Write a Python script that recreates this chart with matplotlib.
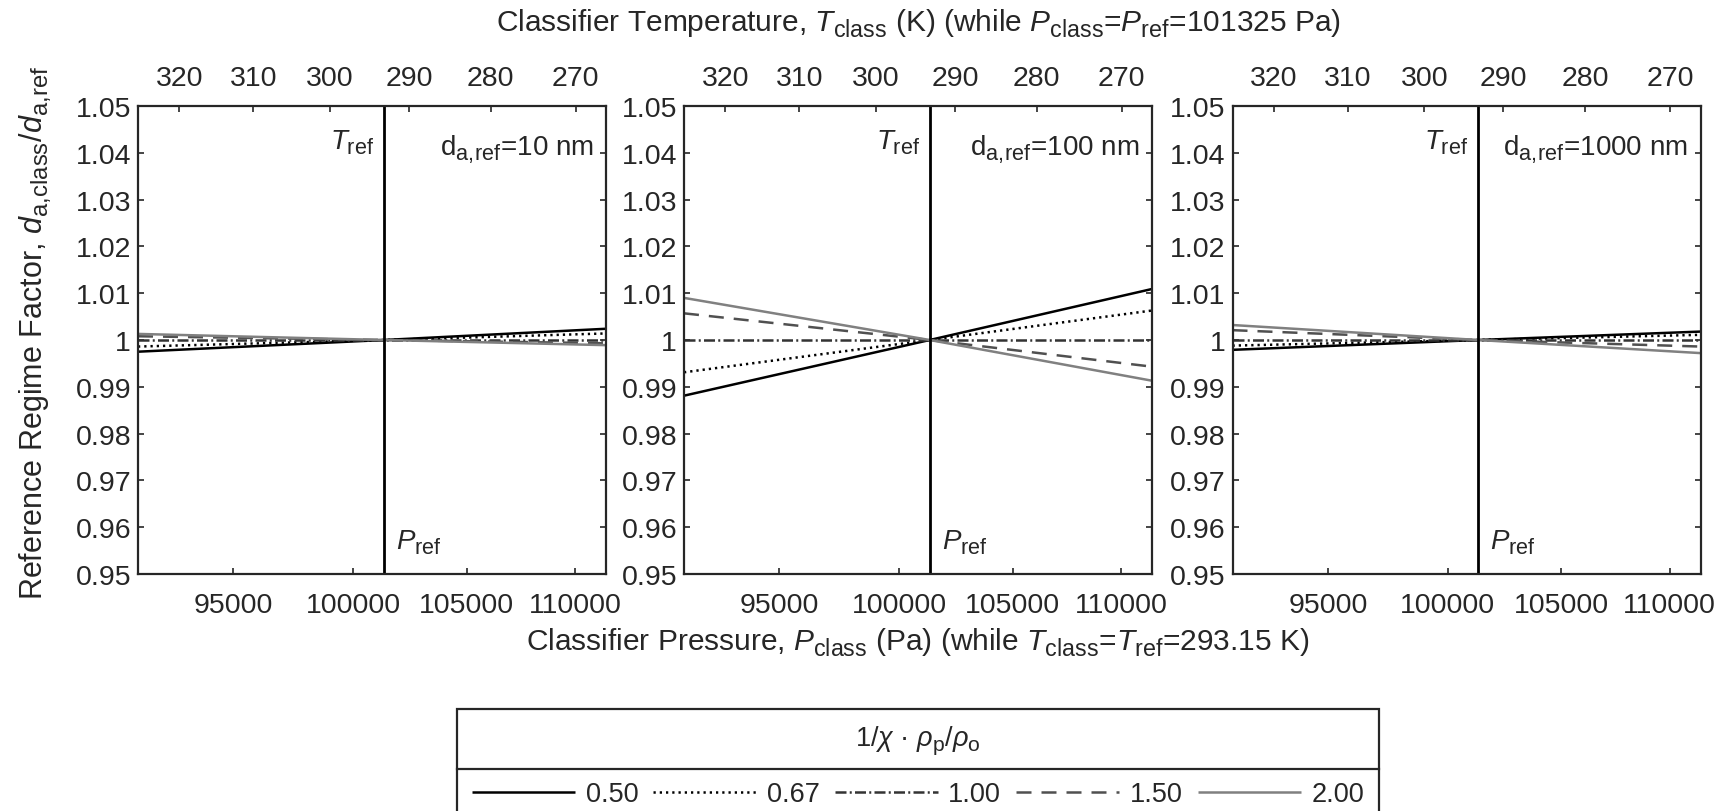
import matplotlib
matplotlib.use("Agg")
import matplotlib.pyplot as plt
import matplotlib._mathtext as _mt
from matplotlib.lines import Line2D
from matplotlib.ticker import FixedLocator, FixedFormatter, NullLocator

_mt.SHRINK_FACTOR = 0.78
_mt.FontConstantsBase.sub1 = 0.38
_mt.FontConstantsBase.sub2 = 0.48

plt.rcParams['font.family'] = ['Liberation Sans', 'DejaVu Sans']
plt.rcParams['mathtext.fontset'] = 'custom'
plt.rcParams['mathtext.rm'] = 'Liberation Sans'
plt.rcParams['mathtext.it'] = 'Liberation Sans:italic'
plt.rcParams['mathtext.bf'] = 'Liberation Sans:bold'
plt.rcParams['text.color'] = '#262626'
plt.rcParams['axes.labelcolor'] = '#262626'

# ---------------- data ----------------
P_ref = 101325.0
T_ref = 293.15
P_class = [91192.5, 101325.0, 111457.5]       # evaluation pressures (Pa)
ratio_labels = ["0.50", "0.67", "1.00", "1.50", "2.00"]
diameters = ["10", "100", "1000"]

# factor at lowest pressure / at P_ref / at highest pressure, one entry per ratio
d10_low = [0.9975, 0.9986, 1.0, 1.0008, 1.0013]
d10_high = [1.0024, 1.0014, 1.0, 0.9993, 0.9989]
d100_low = [0.9881, 0.9931, 1.0, 1.0057, 1.0090]
d100_high = [1.0109, 1.0063, 1.0, 0.9943, 0.9913]
d1000_low = [0.9979, 0.9988, 1.0, 1.0021, 1.0032]
d1000_high = [1.0018, 1.0011, 1.0, 0.9986, 0.9972]

y_ticks = [0.95, 0.96, 0.97, 0.98, 0.99, 1.00, 1.01, 1.02, 1.03, 1.04, 1.05]
p_ticks = [95000, 100000, 105000, 110000]
t_ticks = [270, 280, 290, 300, 310, 320]

panel_low = [d10_low, d100_low, d1000_low]
panel_high = [d10_high, d100_high, d1000_high]

styles = [
    dict(color='black', ls='-', lw=1.8),
    dict(color='black', ls=(0, (0.9, 1.6)), lw=1.8),
    dict(color='#333333', ls=(0, (4.4, 1.3, 0.8, 1.3)), lw=1.8),
    dict(color='#505050', ls=(0, (6.0, 4.0)), lw=1.8),
    dict(color='#808080', ls='-', lw=1.8),
]

W, H = 1727, 812
fig = plt.figure(figsize=(W / 100, H / 100), dpi=100)
FS = 20.5
TXT = '#262626'

ax_left_px = [138, 684, 1232.5]
ax_w_px = 468
ax_top_px, ax_bot_px = 107, 575

handles = []
for i in range(3):
    ax = fig.add_axes([ax_left_px[i] / W, (H - ax_bot_px) / H,
                       ax_w_px / W, (ax_bot_px - ax_top_px) / H])
    ax.set_xscale('log')
    ax.set_xlim(P_class[0], P_class[-1])
    ax.set_ylim(0.95, 1.05)
    for j in range(5):
        vals = [panel_low[i][j], 1.0, panel_high[i][j]]
        ln, = ax.plot(P_class, vals, solid_capstyle='butt',
                      dash_capstyle='butt', **styles[j])
        if i == 0:
            handles.append(ln)
    ax.axvline(P_ref, color='black', lw=2.0)

    ax.xaxis.set_major_locator(FixedLocator(p_ticks))
    ax.xaxis.set_major_formatter(FixedFormatter([str(v) for v in p_ticks]))
    ax.xaxis.set_minor_locator(NullLocator())
    ax.yaxis.set_major_locator(FixedLocator(y_ticks))
    ax.yaxis.set_major_formatter(FixedFormatter([f"{v:g}" for v in y_ticks]))
    ax.tick_params(axis='x', direction='in', length=4, width=1.2, top=False,
                   bottom=True, labelsize=FS, pad=13, colors=TXT)
    ax.tick_params(axis='y', direction='in', length=4, width=1.2, left=True,
                   right=True, labelsize=FS, pad=5, colors=TXT)
    for s in ax.spines.values():
        s.set_linewidth(1.6)
        s.set_color(TXT)

    ax2 = ax.twiny()
    ax2.set_xscale('log')
    ax2.set_xlim(T_ref * P_ref / P_class[0], T_ref * P_ref / P_class[-1])
    ax2.xaxis.set_major_locator(FixedLocator(t_ticks))
    ax2.xaxis.set_major_formatter(FixedFormatter([str(v) for v in t_ticks]))
    ax2.xaxis.set_minor_locator(NullLocator())
    ax2.tick_params(axis='x', direction='in', length=4, width=1.2, top=True,
                    bottom=False, labelsize=FS, pad=11, colors=TXT)
    for s in ax2.spines.values():
        s.set_visible(False)

    ax.annotate(r"$T_{\rm ref}$", xy=(P_ref, 1.05), xycoords='data',
                xytext=(-10, -42), textcoords='offset pixels',
                ha='right', va='baseline', fontsize=20, color=TXT)
    ax.annotate(r"$P_{\rm ref}$", xy=(P_ref, 0.95), xycoords='data',
                xytext=(12, 26), textcoords='offset pixels',
                ha='left', va='baseline', fontsize=20, color=TXT)
    ax.text(0.973, 0.897, r"d$_{\rm a,\!ref}$=" + diameters[i] + " nm",
            transform=ax.transAxes, ha='right', va='baseline',
            fontsize=20, color=TXT)

mid_c = (ax_left_px[1] + ax_w_px / 2) / W
fig.text(mid_c, 1 - 24 / H,
         r"Classifier Temperature, $T_{\rm class}$ (K) (while $P_{\rm class}$=$P_{\rm ref}$=101325 Pa)",
         ha='center', va='center', fontsize=21.5, color=TXT)
fig.text(mid_c, 1 - 643 / H,
         r"Classifier Pressure, $P_{\rm class}$ (Pa) (while $T_{\rm class}$=$T_{\rm ref}$=293.15 K)",
         ha='center', va='center', fontsize=21.5, color=TXT)
fig.text(36 / W, 1 - 333 / H,
         r"Reference Regime Factor, $d_{\rm a,\!class}$/$d_{\rm a,\!ref}$",
         ha='center', va='center', rotation=90, fontsize=22, color=TXT)

leg = fig.legend(handles, ratio_labels, loc='upper center',
                 bbox_to_anchor=(mid_c, 1 - 710 / H), ncol=5,
                 title=r"1/$\chi$ · $\rho_{\rm p}$/$\rho_{\rm o}$",
                 title_fontsize=19.5, fontsize=19.5, frameon=True, fancybox=False,
                 edgecolor=TXT, framealpha=1.0, borderpad=0.55, labelspacing=0.9,
                 handlelength=3.8, handletextpad=0.4, columnspacing=0.55,
                 borderaxespad=0)
leg.get_frame().set_linewidth(1.6)
leg.get_frame().set_facecolor('white')
for t in leg.get_texts():
    t.set_color(TXT)

fig.canvas.draw()
r = fig.canvas.get_renderer()
lb = leg.get_window_extent(r)
tb = leg.get_title().get_window_extent(r)
ent_tops = [t.get_window_extent(r).y1 for t in leg.get_texts()]
ymid = (tb.y0 + max(ent_tops)) / 2
fig.add_artist(Line2D([lb.x0 / W, lb.x1 / W], [ymid / H, ymid / H],
                      transform=fig.transFigure, color=TXT, lw=1.6,
                      zorder=20))

fig.savefig("out.png", dpi=100)
